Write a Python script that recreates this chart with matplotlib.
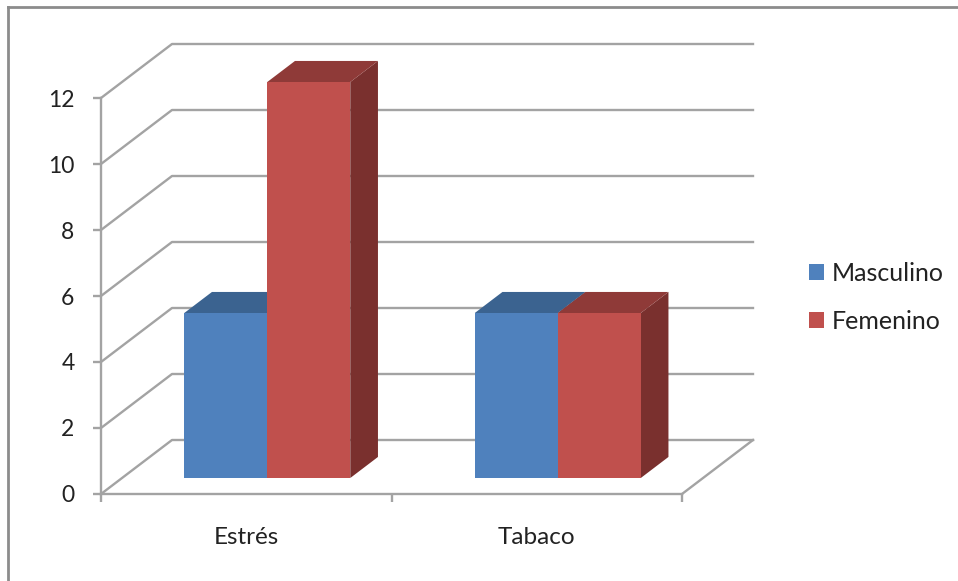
import matplotlib
matplotlib.use('Agg')
import matplotlib.pyplot as plt
from matplotlib.lines import Line2D
from matplotlib.patches import Polygon, Patch

# data
categories = ['Estrés', 'Tabaco']
masculino = [5, 5]
femenino = [12, 5]
yticks = [0, 2, 4, 6, 8, 10, 12]

W, H = 958, 581
GRID = '#a3a3a3'
BLUE, BLUE_TOP, BLUE_SIDE = '#4f81bd', '#3b6390', '#33557c'
RED, RED_TOP, RED_SIDE = '#c0504d', '#8f3a38', '#7a302e'

plt.rcParams['font.family'] = ['Lato', 'DejaVu Sans']

fig = plt.figure(figsize=(W / 100, H / 100), dpi=100)
ax = fig.add_axes([101 / W, (H - 494) / H, 581 / W, 396 / H])
ax.set_xlim(0, 2)
ax.set_ylim(0, 12)

# depth of the back wall, in data units
DX = 71 / 290.5
DY = 54 / 33.0


def shift(x, y, d):
    return x + DX * d, y + DY * d


# walls and floor
for v in yticks:
    x0, y0 = shift(0, v, 1)
    x1, y1 = shift(2, v, 1)
    ax.plot([0, x0, x1], [v, y0, y1], color=GRID, lw=1.7, clip_on=False, zorder=1)
fx, fy = shift(2, 0, 1)
ax.plot([2, fx], [0, fy], color=GRID, lw=1.7, clip_on=False, zorder=1)


def bar3d(left, width, value, front, top, side, z):
    d0, d1 = 0.296, 0.296 + 0.39
    corners = [(left, 0), (left + width, 0), (left + width, value), (left, value)]
    p = [shift(x, y, d0) for x, y in corners]
    q = [shift(x, y, d1) for x, y in corners]
    ax.add_patch(Polygon([p[1], q[1], q[2], p[2]], fc=side, ec='none', clip_on=False, zorder=z))
    ax.add_patch(Polygon([p[3], p[2], q[2], q[3]], fc=top, ec='none', clip_on=False, zorder=z))
    ax.add_patch(Polygon(p, fc=front, ec='none', clip_on=False, zorder=z + 0.5))


bar_w = 83 / 290.5
for i in range(len(categories)):
    c = i + 0.5
    bar3d(c - bar_w, bar_w, masculino[i], BLUE, BLUE_TOP, BLUE_SIDE, 2)
    bar3d(c, bar_w, femenino[i], RED, RED_TOP, RED_SIDE, 3)

for s in ['top', 'right']:
    ax.spines[s].set_visible(False)
for s in ['left', 'bottom']:
    ax.spines[s].set_color(GRID)
    ax.spines[s].set_linewidth(1.7)

ax.set_yticks(yticks)
ax.set_xticks([0, 1, 2])
ax.set_xticks([0.5, 1.5], minor=True)
ax.set_xticklabels([])
ax.set_xticklabels(categories, minor=True)
ax.tick_params(axis='both', which='major', color=GRID, width=1.7, length=6, labelcolor='#222222')
ax.tick_params(axis='y', pad=13, labelsize=16.5)
ax.tick_params(axis='x', which='minor', length=0, pad=24, labelcolor='#222222', labelsize=17.5)

# outer chart frame, only top and left edges are inside the picture
fig.add_artist(Line2D([8 / W, 1], [1 - 7 / H, 1 - 7 / H], color='#8c8c8c', lw=2))
fig.add_artist(Line2D([8 / W, 8 / W], [0, 1 - 7 / H], color='#8c8c8c', lw=2))

handles = [Patch(fc=BLUE, label='Masculino'), Patch(fc=RED, label='Femenino')]
fig.legend(handles=handles, loc='center left', bbox_to_anchor=(809 / W, 1 - 297.5 / H), frameon=False,
           fontsize=18, labelcolor='#222222', handlelength=0.6, handleheight=0.6, handletextpad=0.3,
           labelspacing=1.0, borderpad=0, borderaxespad=0)

fig.savefig('out.png', dpi=100)
